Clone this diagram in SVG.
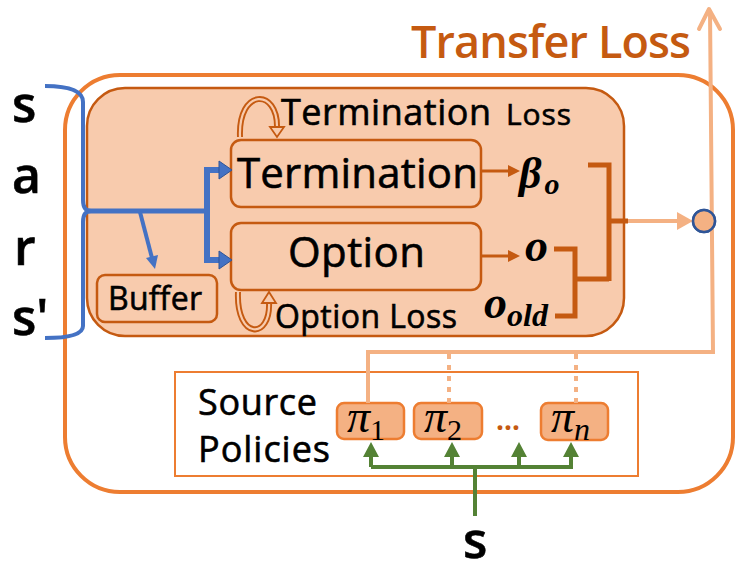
<svg xmlns="http://www.w3.org/2000/svg" width="748" height="572" viewBox="0 0 748 572">
<style>
.lbl{font-family:"Open Sans","Noto Sans",sans-serif;fill:#000;stroke:#000;stroke-width:0.6}
.math{font-family:"Liberation Serif",serif;font-style:italic;fill:#000}
.blue{stroke:#4472C4;fill:none}
.dk{stroke:#C55A11;fill:none}
.lt{stroke:#F4B183;fill:none;stroke-width:4}
.gr{stroke:#548235;fill:none;stroke-width:4}
.pi{fill:#F4B183;stroke:#ED7D31;stroke-width:2.5}
</style>
<rect x="0" y="0" width="748" height="572" fill="#fff"/>
<g id="transfer-frame">
<rect x="65" y="75" width="668" height="417" rx="55" fill="none" stroke="#ED7D31" stroke-width="4"/>
<text x="411" y="58" class="lbl" font-size="45" style="fill:#C55A11;stroke:none;font-weight:600" textLength="280">Transfer Loss</text>
</g>
<g id="agent">
<rect x="87" y="88" width="537" height="248" rx="38" fill="#F8CBAD" stroke="#C55A11" stroke-width="2.5"/>
</g>
<g id="inputs">
<text x="12" y="122" class="lbl" font-size="50" style="font-weight:600">s</text>
<text x="12" y="193" class="lbl" font-size="50" style="font-weight:600">a</text>
<text x="14" y="265" class="lbl" font-size="50" style="font-weight:600">r</text>
<text x="12" y="335" class="lbl" font-size="50" style="font-weight:600">s'</text>
</g>
<g id="termination">
<rect x="231" y="140" width="250" height="67" rx="10" fill="#F8CBAD" stroke="#C55A11" stroke-width="2.5"/>
<text x="237" y="188" class="lbl" font-size="42" textLength="241">Termination</text>
</g>
<g id="option">
<rect x="231" y="223" width="250" height="67" rx="10" fill="#F8CBAD" stroke="#C55A11" stroke-width="2.5"/>
<text x="288" y="267" class="lbl" font-size="42" textLength="137">Option</text>
</g>
<g id="buffer">
<rect x="97" y="275" width="120" height="47" rx="8" fill="#F8CBAD" stroke="#C55A11" stroke-width="2.5"/>
<text x="108" y="310" class="lbl" font-size="32" textLength="94">Buffer</text>
</g>
<g id="termination-loss">
<path d="M240,137 C238,88 278,88 277,128" class="dk" stroke-width="6"/>
<path d="M240,137 C238,88 278,88 277,128" stroke="#F8CBAD" fill="none" stroke-width="2.2"/>
<polygon points="270,127 284,127 277,137" fill="#F8CBAD" stroke="#C55A11" stroke-width="1.8"/>
<text x="281" y="125" class="lbl" font-size="36"><tspan textLength="210">Termination</tspan><tspan x="506" font-size="30" textLength="65">Loss</tspan></text>
</g>
<g id="option-loss">
<path d="M238,292 C236,340 271,340 269,302" class="dk" stroke-width="6"/>
<path d="M238,292 C236,340 271,340 269,302" stroke="#F8CBAD" fill="none" stroke-width="2.2"/>
<polygon points="262,303 276,303 269,292" fill="#F8CBAD" stroke="#C55A11" stroke-width="1.8"/>
<text x="275" y="328" class="lbl" font-size="32" textLength="182">Option Loss</text>
</g>
<g id="beta">
<text x="519" y="188" class="math" font-size="44" font-weight="bold">β<tspan font-size="30" dx="3" dy="6">o</tspan></text>
</g>
<g id="o">
<text x="525" y="261" class="math" font-size="46" font-weight="bold">o</text>
</g>
<g id="o-old">
<text x="484" y="318" class="math" font-size="46" font-weight="bold">o<tspan font-size="32" dx="0" dy="8">old</tspan></text>
</g>
<g id="merge">
<circle cx="704" cy="221" r="11" fill="#F4B183" stroke="#2F5597" stroke-width="2.5"/>
</g>
<g id="source-policies">
<rect x="175" y="372" width="463" height="104" fill="#fff" stroke="#ED7D31" stroke-width="2"/>
<text x="198" y="415" class="lbl" font-size="36" textLength="119">Source</text>
<text x="198" y="462" class="lbl" font-size="36" textLength="132">Policies</text>
</g>
<g id="pi1">
<rect x="337" y="403" width="67" height="36" rx="7" class="pi"/>
<text x="347" y="432" class="math" font-size="46">π<tspan font-style="normal" font-size="30" dy="8">1</tspan></text>
</g>
<g id="pi2">
<rect x="414" y="403" width="68" height="36" rx="7" class="pi"/>
<text x="424" y="432" class="math" font-size="46">π<tspan font-style="normal" font-size="30" dy="8">2</tspan></text>
</g>
<g id="ellipsis">
<text x="496" y="430" font-family="Open Sans, sans-serif" font-size="28" font-weight="bold" fill="#C55A11">…</text>
</g>
<g id="pin">
<rect x="541" y="403" width="67" height="37" rx="7" class="pi"/>
<text x="551" y="432" class="math" font-size="46">π<tspan font-size="32" dy="8">n</tspan></text>
</g>
<g id="state">
<text x="463" y="558" class="lbl" font-size="50" style="font-weight:600">s</text>
</g>
<g id="connectors">
<path d="M45,86 Q83,86 83,102 V200 Q83,211 91,211 Q83,211 83,222 V326 Q83,338 45,338" class="blue" stroke-width="4"/>
<path d="M88,211 H207" class="blue" stroke-width="5"/>
<path d="M140,212 L152,258" class="blue" stroke-width="4"/>
<polygon points="158,255 146,258 155,269" fill="#4472C4"/>
<path d="M207,214 V170 H220" class="blue" stroke-width="6"/>
<polygon points="219,161 232,170 219,179" fill="#4472C4" stroke="#2F5597" stroke-width="1"/>
<path d="M207,210 V260 H220" class="blue" stroke-width="6"/>
<polygon points="219,251 232,260 219,269" fill="#4472C4" stroke="#2F5597" stroke-width="1"/>
<path d="M482,171 H510" class="dk" stroke-width="3"/>
<polygon points="508,165 520,171 508,177" fill="#C55A11"/>
<path d="M482,256 H510" class="dk" stroke-width="3"/>
<polygon points="508,250 520,256 508,262" fill="#C55A11"/>
<path d="M554,249 H575 V316 H555" class="dk" stroke-width="5"/>
<path d="M575,279 H609" class="dk" stroke-width="5"/>
<path d="M588,165 H609 V281" class="dk" stroke-width="5"/>
<path d="M609,221 H628" class="dk" stroke-width="5"/>
<path d="M628,221 H680" class="lt"/>
<polygon points="677,212 693,221 677,230" fill="#F4B183"/>
<path d="M368,403 V352 H713 L710,10" class="lt" stroke-linejoin="miter"/>
<path d="M699,29 L709,9 L720,29" class="lt" stroke-linecap="round" stroke-linejoin="round"/>
<circle cx="704" cy="221" r="11" fill="#F4B183" stroke="#2F5597" stroke-width="2.5"/>
<path d="M449,354 V403" class="lt" stroke-dasharray="5,6"/>
<path d="M576,354 V403" class="lt" stroke-dasharray="5,6"/>
<path d="M371,467 H573" class="gr"/>
<path d="M475,467 V516" class="gr"/>
<path d="M371,467 V455 M452,467 V455 M519,467 V455 M571,467 V455" class="gr"/>
<polygon points="363,457 371,442 379,457" fill="#548235"/>
<polygon points="444,457 452,442 460,457" fill="#548235"/>
<polygon points="511,457 519,442 527,457" fill="#548235"/>
<polygon points="563,457 571,442 579,457" fill="#548235"/>
</g>
</svg>
